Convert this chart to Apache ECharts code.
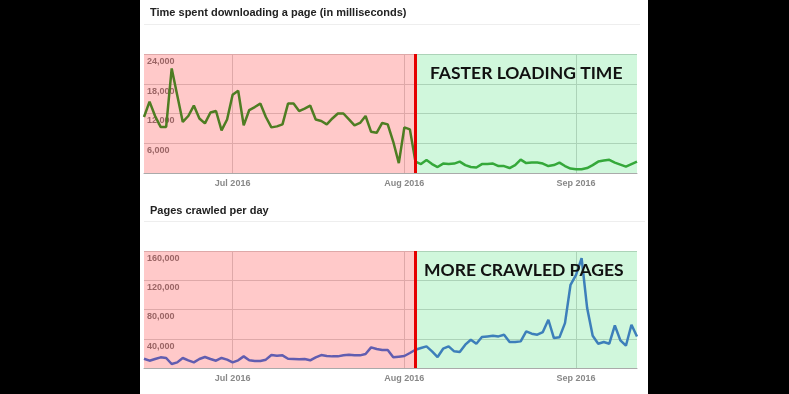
<!DOCTYPE html>
<html><head><meta charset="utf-8">
<script src="https://cdn.jsdelivr.net/npm/echarts@6/dist/echarts.min.js"></script>
<style>html,body{margin:0;padding:0;background:#000}#c{width:789px;height:394px}</style>
</head><body><div id="c"></div><script>
const dates = [
'2016-06-15','2016-06-16','2016-06-17','2016-06-18','2016-06-19','2016-06-20','2016-06-21','2016-06-22','2016-06-23','2016-06-24',
'2016-06-25','2016-06-26','2016-06-27','2016-06-28','2016-06-29','2016-06-30',
'2016-07-01','2016-07-02','2016-07-03','2016-07-04','2016-07-05','2016-07-06','2016-07-07','2016-07-08','2016-07-09','2016-07-10',
'2016-07-11','2016-07-12','2016-07-13','2016-07-14','2016-07-15','2016-07-16','2016-07-17','2016-07-18','2016-07-19','2016-07-20',
'2016-07-21','2016-07-22','2016-07-23','2016-07-24','2016-07-25','2016-07-26','2016-07-27','2016-07-28','2016-07-29','2016-07-30','2016-07-31',
'2016-08-01','2016-08-02','2016-08-03','2016-08-04','2016-08-05','2016-08-06','2016-08-07','2016-08-08','2016-08-09','2016-08-10',
'2016-08-11','2016-08-12','2016-08-13','2016-08-14','2016-08-15','2016-08-16','2016-08-17','2016-08-18','2016-08-19','2016-08-20',
'2016-08-21','2016-08-22','2016-08-23','2016-08-24','2016-08-25','2016-08-26','2016-08-27','2016-08-28','2016-08-29','2016-08-30','2016-08-31',
'2016-09-01','2016-09-02','2016-09-03','2016-09-04','2016-09-05','2016-09-06','2016-09-07','2016-09-08','2016-09-09','2016-09-10','2016-09-11','2016-09-12'
];
const loadTime = [
11300,14400,11500,9300,9300,21100,15700,10300,11500,13600,
11000,10000,12200,12500,8600,10800,15800,16600,9600,12700,
13300,14000,11300,9200,9400,9800,14000,14000,12500,13000,
13600,10800,10500,9800,11000,12000,12000,10800,9600,10100,
11500,8300,8100,10100,9800,6300,2000,9200,8800,2300,
1800,2600,1800,1200,1900,1800,1900,2300,1600,1200,
1100,1800,1800,1900,1400,1400,1000,1600,2700,2000,
2100,2100,1900,1400,1600,2100,1400,900,750,750,
1000,1600,2300,2500,2650,2100,1700,1300,1800,2300
];
const pagesCrawled = [
12700,10000,12300,14600,13700,5500,7700,13700,10500,7700,
12300,15000,12300,10000,13700,11400,7700,10500,15900,10500,
9600,9600,11400,17700,16800,17300,12700,12300,11800,12300,
10500,14600,17700,16400,15900,15900,17300,18200,17300,17300,
19100,28200,25900,24600,24600,14600,15500,16400,20500,25000,
27300,29600,22800,15000,26400,29600,22800,21800,31900,38700,
33200,42300,43200,44100,43200,45500,35500,35500,36400,50000,
46900,45500,49100,66000,41000,41900,61400,113800,127400,150200,
81900,44100,33200,35500,33200,58200,37800,30500,59200,43200
];
const loadTicks = [0, 6000, 12000, 18000, 24000];
const crawlTicks = [0, 40000, 80000, 120000, 160000];
const changeIndex = 49;
const monthNames = {'06':'Jun','07':'Jul','08':'Aug','09':'Sep'};
const titles = ['Time spent downloading a page (in milliseconds)', 'Pages crawled per day'];
const notes = ['FASTER LOADING TIME', 'MORE CRAWLED PAGES'];

const chart = echarts.init(document.getElementById('c'), null, {renderer: 'canvas'});
const FONT = '"Liberation Sans", Arial, sans-serif';
const PINK = 'rgba(255,100,100,0.35)';
const GREEN = 'rgba(100,230,140,0.30)';

function xAxisCfg(gi) {
  return {
    type: 'category', gridIndex: gi, data: dates, boundaryGap: false,
    axisTick: {show: false},
    axisLine: {show: true, lineStyle: {color: '#aaa', width: 1}},
    axisLabel: {
      interval: (i, v) => v.endsWith('-01'), margin: 6,
      formatter: v => monthNames[v.slice(5,7)] + ' ' + v.slice(0,4),
      color: '#888', fontFamily: FONT, fontWeight: 'bold', fontSize: 9
    },
    splitLine: {show: true, interval: (i, v) => v.endsWith('-01'), lineStyle: {color: '#ccc', width: 1}}
  };
}
function yAxisCfg(gi, ticks) {
  return {
    type: 'value', gridIndex: gi, min: ticks[0], max: ticks[ticks.length-1],
    interval: ticks[1]-ticks[0],
    axisLine: {show: false}, axisTick: {show: false},
    axisLabel: {
      inside: true, margin: 3, verticalAlign: 'top', padding: [3,0,0,0],
      formatter: v => v === 0 ? '' : v.toLocaleString('en-US'),
      color: '#666', fontFamily: FONT, fontWeight: 'bold', fontSize: 9
    },
    splitLine: {show: true, lineStyle: {color: '#ccc', width: 1}}
  };
}
function bgSeries(gi) {
  return {
    type: 'line', xAxisIndex: gi, yAxisIndex: gi, data: [], z: 1, silent: true,
    markArea: {silent: true, data: [
      [{xAxis: 0, itemStyle: {color: PINK}}, {xAxis: changeIndex}],
      [{xAxis: changeIndex, itemStyle: {color: GREEN}}, {xAxis: dates.length-1}]
    ]}
  };
}
function lineSeries(gi, values, part, color, withMark) {
  const s = {
    type: 'line', xAxisIndex: gi, yAxisIndex: gi, z: part ? 4 : 3,
    data: values.map((v, i) => (part === 0 ? i <= changeIndex : i >= changeIndex) ? v : null),
    showSymbol: false, symbol: 'none', connectNulls: false,
    lineStyle: {color: color, width: 2.5}, itemStyle: {color: color}
  };
  if (withMark) {
    s.markLine = {silent: true, symbol: 'none', label: {show: false},
      lineStyle: {color: '#e50000', width: 3, type: 'solid'},
      data: [{xAxis: changeIndex}]};
  }
  return s;
}

chart.setOption({
  animation: false,
  backgroundColor: '#fff',
  grid: [
    {left: 144, top: 54, width: 493, height: 119},
    {left: 144, top: 251, width: 493, height: 117}
  ],
  xAxis: [xAxisCfg(0), xAxisCfg(1)],
  yAxis: [yAxisCfg(0, loadTicks), yAxisCfg(1, crawlTicks)],
  series: [
    bgSeries(0), bgSeries(1),
    lineSeries(0, loadTime, 0, '#4e7d22', false),
    lineSeries(0, loadTime, 1, '#35a83a', true),
    lineSeries(1, pagesCrawled, 0, '#615db0', false),
    lineSeries(1, pagesCrawled, 1, '#3d7fba', true)
  ],
  graphic: [
    {type: 'rect', left: 0, top: 0, shape: {width: 140, height: 394}, style: {fill: '#000'}},
    {type: 'rect', left: 648, top: 0, shape: {width: 141, height: 394}, style: {fill: '#000'}},
    {type: 'line', shape: {x1: 144, y1: 24.5, x2: 640, y2: 24.5}, style: {stroke: '#eee', lineWidth: 1}},
    {type: 'line', shape: {x1: 144, y1: 221.5, x2: 645, y2: 221.5}, style: {stroke: '#eee', lineWidth: 1}},
    {type: 'text', x: 150, y: 13, style: {text: titles[0], font: 'bold 11px ' + FONT, fill: '#222', verticalAlign: 'middle'}},
    {type: 'text', x: 150, y: 211, style: {text: titles[1], font: 'bold 11px ' + FONT, fill: '#222', verticalAlign: 'middle'}},
    {type: 'text', x: 430, y: 73, z: 10, style: {text: notes[0], font: 'bold 17.5px Lato, sans-serif', fill: '#111', verticalAlign: 'middle'}},
    {type: 'text', x: 424, y: 270, z: 10, style: {text: notes[1], font: 'bold 17.5px Lato, sans-serif', fill: '#111', verticalAlign: 'middle'}}
  ]
});
</script></body></html>
